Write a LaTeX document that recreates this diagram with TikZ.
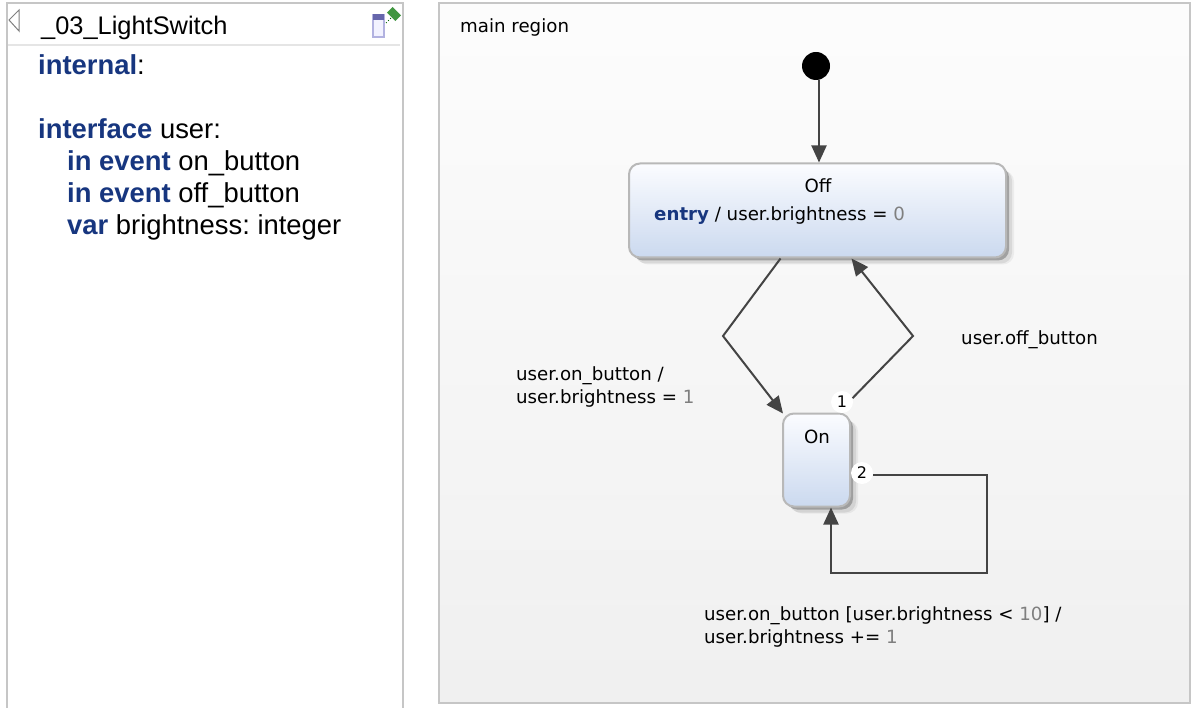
\documentclass[tikz,border=0pt]{standalone}
\usepackage{fontspec}
\usetikzlibrary{calc}
\usetikzlibrary{positioning,arrows.meta,shadows}
\newfontfamily\panelfont{Liberation Sans}
\newfontfamily\chartfont{DejaVu Sans}
\definecolor{keyblue}{HTML}{17367F}
\definecolor{valgrey}{HTML}{7F7F7F}
\definecolor{framegrey}{HTML}{C6C6C6}
\definecolor{linegrey}{HTML}{444444}
\definecolor{statetop}{HTML}{FBFCFF}
\definecolor{statebot}{HTML}{CBD9EF}
\newcommand{\kw}[1]{\textcolor{keyblue}{\textbf{#1}}}
\newcommand{\val}[1]{\textcolor{valgrey}{#1}}
\frenchspacing
\tikzset{
  statebox/.style={draw=black!28,line width=2pt,rounded corners=11pt,top color=statetop,bottom color=statebot,
    drop shadow={shadow xshift=8pt,shadow yshift=-7pt,fill=black,opacity=0.05},
    drop shadow={shadow xshift=6pt,shadow yshift=-6pt,fill=black,opacity=0.08},
    drop shadow={shadow xshift=3pt,shadow yshift=-3pt,fill=black,opacity=0.25},inner sep=0pt},
  trans/.style={draw=linegrey,line width=2pt,-{Triangle[length=17pt,width=15pt]}},
  badge/.style={circle,fill=white,inner sep=0pt,minimum size=22pt,font=\chartfont\fontsize{16}{16}\selectfont},
  paneltext/.style={anchor=base west,inner sep=0pt,font=\panelfont\fontsize{27.4}{27.4}\selectfont},
  charttext/.style={anchor=base west,inner sep=0pt,font=\chartfont\fontsize{18.2}{18.2}\selectfont},
}
\begin{document}
\begin{tikzpicture}[x=1pt,y=-1pt]
      \useasboundingbox (0,0) rectangle (1194,708);
      \fill[white] (0,0) rectangle (1194,708);
      % left panel
      \draw[framegrey,line width=2pt] (7,708) -- (7,3) -- (403,3) -- (403,708);
      \draw[black!10,line width=2pt] (8,45) -- (400,45);
      \draw[black!50,line width=1pt,fill=white] (19,10) -- (9,20) -- (19,31) -- cycle;
      \node[paneltext,font=\panelfont\fontsize{25.4}{25.4}\selectfont] (title) at (41,35) {\_03\_LightSwitch};
      \draw[black!40!blue!30!white,line width=1.5pt,fill=blue!5] (373,15) rectangle (384,37);
      \fill[blue!45!black!60!white] (373,14) rectangle (384,20);
      \draw[green!40!black,line width=1pt,dotted] (386,23) -- (391,18);
      \fill[green!45!black!75!white,rotate around={-45:(394,14)}] (388,10) rectangle (400,18);
      \node[paneltext] (internal) at (38,75) {\kw{internal}:};
      \node[paneltext] (iface) at (38,139) {\kw{interface} user:};
      \node[paneltext] (onev) at (67,171) {\kw{in event} on\_button};
      \node[paneltext] (offev) at (67,203) {\kw{in event} off\_button};
      \node[paneltext] (bright) at (67,235) {\kw{var} brightness: integer};
      % main region
      \draw[framegrey,line width=2pt,top color=white!99!black,bottom color=black!6] (439,3) rectangle (1190,703);
      \node[charttext] (region) at (460,33) {main region};
      \node[circle,fill=black,inner sep=0pt,minimum size=28pt] (init) at (816,66) {};
      \node[statebox,minimum width=377pt,minimum height=94pt] (off) at (817.5,210.5) {};
      \node[statebox,minimum width=67pt,minimum height=93pt] (on) at (816.5,460) {};
      \node[charttext,anchor=base] (offname) at (818,193) {Off};
      \node[charttext] (offentry) at (654,221) {\kw{entry} / user.brightness = \val{0}};
      \node[charttext,anchor=base] (onname) at (817,443) {On};
      \coordinate (bendl) at (723,336);
      \coordinate (bendr) at (913,336);
      \coordinate (loopa) at (987,475);
      \coordinate (loopb) at (987,573);
      \coordinate (loopc) at (831,573);
      \draw[trans] ([xshift=3pt]init.south) -- ([xshift=1.5pt]off.north);
      \draw[trans] ([xshift=-37pt]off.south) -- (bendl) -- ([xshift=1pt,yshift=-1pt]on.north west);
      \node[badge] (one) at (842,402) {1};
      \node[badge] (two) at (862,473) {2};
      \draw[trans] (one.20) -- (bendr) -- ([xshift=34pt]off.south);
      \draw[trans] ([yshift=-2pt]two.east) -- (loopa) -- (loopb) -- (loopc) -- (on.south -| loopc);
      \node[charttext,align=left,anchor=north west] (lblon) at (516,366) {user.on\_button /\\[5pt]user.brightness = \val{1}};
      \node[charttext] (lbloff) at (961,345) {user.off\_button};
      \node[charttext,align=left,anchor=north west] (lblloop) at (704,606) {user.on\_button [user.brightness < \val{10}] /\\[5pt]user.brightness += \val{1}};
    \end{tikzpicture}
\end{document}
